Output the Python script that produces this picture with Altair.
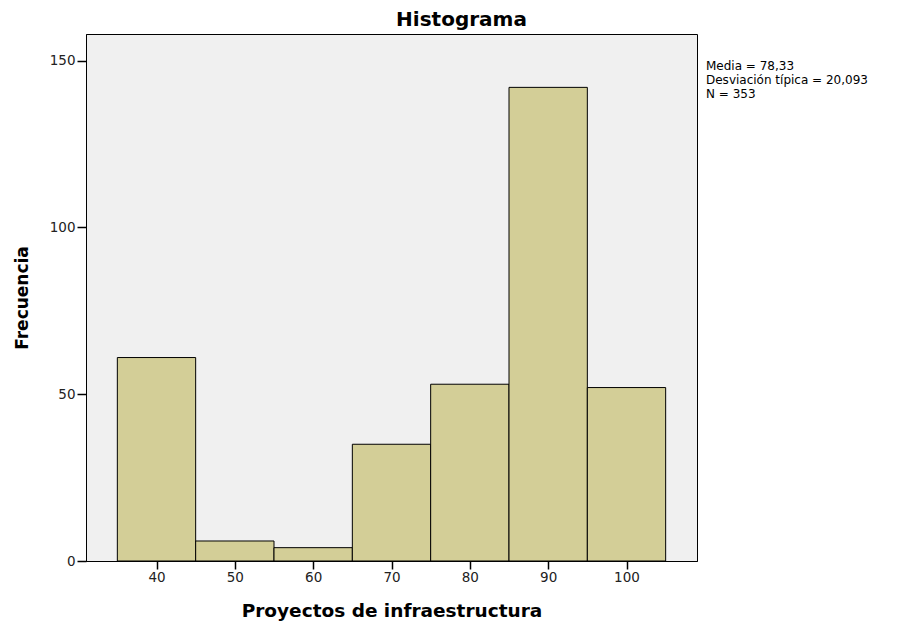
import altair as alt
import pandas as pd

bin_start = [35, 45, 55, 65, 75, 85, 95]
bin_end = [45, 55, 65, 75, 85, 95, 105]
counts = [61, 6, 4, 35, 53, 142, 52]
x_ticks = [40, 50, 60, 70, 80, 90, 100]
y_ticks = [0, 50, 100, 150]
stats_lines = ["Media = 78,33", "Desviación típica = 20,093", "N = 353"]

df = pd.DataFrame({"start": bin_start, "end": bin_end, "count": counts})

bars = alt.Chart(df).mark_bar(
    fill="#D3CE97", stroke="#000000", strokeWidth=1, opacity=1
).encode(
    x=alt.X("start:Q", scale=alt.Scale(domain=[31, 109], nice=False, zero=False),
            axis=alt.Axis(values=x_ticks, title="Proyectos de infraestructura",
                          grid=False, tickSize=8, labelPadding=1,
                          titlePadding=18, titleFontSize=18.5)),
    x2="end:Q",
    y=alt.Y("count:Q", scale=alt.Scale(domain=[0, 158], nice=False),
            axis=alt.Axis(values=y_ticks, title="Frecuencia", grid=False,
                          tickSize=9, labelPadding=2, titlePadding=18,
                          titleFontSize=17)),
    y2=alt.datum(0),
)

stats = alt.Chart(pd.DataFrame({"t": [stats_lines]})).mark_text(
    align="left", baseline="top", font="DejaVu Sans", fontSize=12,
    lineHeight=14, color="#000000"
).encode(
    text="t",
    x=alt.value(620),
    y=alt.value(27),
)

chart = alt.layer(bars, stats).properties(
    width=611,
    height=527,
    padding={"left": 78, "top": 26, "right": 190, "bottom": 65},
    autosize=alt.AutoSizeParams(type="none"),
    title=alt.TitleParams("Histograma", font="DejaVu Sans", fontSize=20,
                          fontWeight="bold", color="#000000", anchor="middle",
                          dx=70, offset=4),
    background="#FFFFFF",
).configure_view(
    fill="#F0F0F0", stroke="#000000", strokeWidth=1
).configure_axis(
    domainColor="#000000", tickColor="#000000", labelColor="#222222",
    labelFont="DejaVu Sans", labelFontSize=13.5,
    titleFont="DejaVu Sans", titleFontWeight="bold",
    titleColor="#000000", tickWidth=1.5, domainWidth=1
)

chart.save("out.html", embed_options={"renderer": "svg", "actions": False})
